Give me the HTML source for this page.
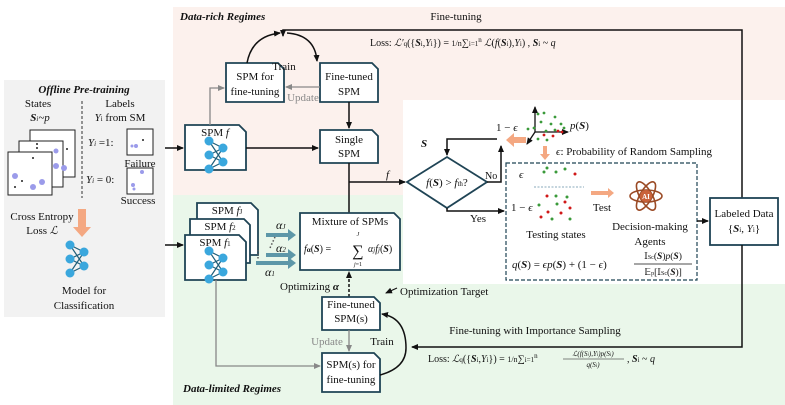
<!DOCTYPE html>
<html><head><meta charset="utf-8"><style>
html,body{margin:0;padding:0;background:#fff}
svg{display:block;font-family:"Liberation Serif",serif}
text{font-size:11px;fill:#111}
.b{font-weight:bold;font-style:italic}
.g{fill:#888}
</style></head><body>
<svg width="785" height="405" viewBox="0 0 785 405">
<defs>
<marker id="ar" markerWidth="8" markerHeight="8" refX="6" refY="3" orient="auto" markerUnits="userSpaceOnUse"><path d="M0,0L7,3L0,6z" fill="#111"/></marker>
<marker id="ag" markerWidth="8" markerHeight="8" refX="6" refY="3" orient="auto" markerUnits="userSpaceOnUse"><path d="M0,0L7,3L0,6z" fill="#888"/></marker>
<g id="nn">
<g stroke="#1f5f7a" stroke-width="1.2"><path d="M0,0L14,7M0,0L14,21M0,14L14,7M0,14L14,21M0,28L14,7M0,28L14,21"/></g>
<g fill="#3aa7dd"><circle cx="0" cy="0" r="4.5"/><circle cx="0" cy="14" r="4.5"/><circle cx="0" cy="28" r="4.5"/><circle cx="14" cy="7" r="4.5"/><circle cx="14" cy="21" r="4.5"/></g>
</g>
</defs>
<rect x="173" y="7" width="612" height="188" fill="#fcf1ed"/>
<rect x="173" y="195" width="612" height="210" fill="#eaf7ea"/>
<rect x="403" y="100" width="382" height="184" fill="#fff"/>
<rect x="4" y="80" width="161" height="237" fill="#f2f2f2"/>

<text x="84" y="93" text-anchor="middle" class="b" style="font-size:11px">Offline Pre-training</text>
<text x="38" y="107" text-anchor="middle">States</text>
<text x="40" y="121" text-anchor="middle" font-style="italic"><tspan font-weight="bold">S</tspan><tspan font-size="7">i</tspan>~p</text>
<line x1="82" y1="101" x2="82" y2="198" stroke="#333" stroke-dasharray="3,2"/>
<text x="120" y="107" text-anchor="middle">Labels</text>
<text x="120" y="121" text-anchor="middle"><tspan font-style="italic">Y</tspan><tspan font-size="7">i</tspan> from SM</text>
<rect x="30" y="130" width="45" height="47" fill="#fff" stroke="#222"/>
<rect x="19" y="141" width="44" height="46" fill="#fff" stroke="#222"/>
<rect x="8" y="152" width="44" height="43" fill="#fff" stroke="#222"/>
<g fill="#9b9bea"><circle cx="15" cy="176" r="3"/><circle cx="33" cy="187" r="3"/><circle cx="42" cy="182" r="3"/><circle cx="56" cy="166" r="3"/><circle cx="64" cy="168" r="3"/><circle cx="56" cy="151" r="2.5"/></g>
<g fill="#222"><circle cx="33" cy="158" r="1"/><circle cx="22" cy="181" r="1"/><circle cx="15" cy="187" r="1"/><circle cx="67" cy="149" r="1"/><circle cx="37" cy="144" r="1"/><circle cx="37" cy="148" r="1"/></g>
<text x="88" y="146" font-style="italic">Y<tspan font-size="7">i</tspan><tspan font-style="normal"> =1:</tspan></text>
<rect x="127" y="129" width="26" height="26" fill="#fff" stroke="#222"/>
<circle cx="136" cy="146" r="2" fill="#9b9bea"/><circle cx="132" cy="146" r="1.5" fill="#9b9bea"/><circle cx="143" cy="140" r="1" fill="#222"/>
<text x="140" y="167" text-anchor="middle">Failure</text>
<text x="86" y="183" font-style="italic">Y<tspan font-size="7">i</tspan><tspan font-style="normal"> = 0:</tspan></text>
<rect x="127" y="168" width="26" height="26" fill="#fff" stroke="#222"/>
<circle cx="142" cy="172" r="2" fill="#9b9bea"/><circle cx="133" cy="185" r="2" fill="#9b9bea"/><circle cx="134" cy="189" r="1.5" fill="#9b9bea"/>
<text x="138" y="204" text-anchor="middle">Success</text>
<text x="42" y="220" text-anchor="middle">Cross Entropy</text>
<text x="42" y="234" text-anchor="middle">Loss <tspan font-style="italic">ℒ</tspan></text>
<path d="M78,209h8v18h5l-9,10l-9,-10h5z" fill="#f4a882"/>
<use href="#nn" x="70" y="245"/>
<text x="84" y="294" text-anchor="middle">Model for</text>
<text x="84" y="309" text-anchor="middle">Classification</text>

<line x1="165" y1="148" x2="183" y2="148" stroke="#111" stroke-width="1.5" marker-end="url(#ar)"/>
<line x1="165" y1="245" x2="183" y2="245" stroke="#111" stroke-width="1.5" marker-end="url(#ar)"/>

<text x="180" y="20" class="b">Data-rich Regimes</text>
<path d="M185,125h54l7,7v38h-61z" fill="#fff" stroke="#1f4455" stroke-width="1.8"/>
<text x="215" y="136" text-anchor="middle">SPM <tspan font-style="italic">f</tspan></text>
<use href="#nn" x="209" y="141"/>
<line x1="246" y1="148" x2="318" y2="148" stroke="#111" stroke-width="1.5" marker-end="url(#ar)"/>
<path d="M320,130h52l6,6v27h-58z" fill="#fff" stroke="#1f4455" stroke-width="1.8"/>
<text x="349" y="143" text-anchor="middle">Single</text>
<text x="349" y="157" text-anchor="middle">SPM</text>
<path d="M226,63h52l6,6v33h-58z" fill="#fff" stroke="#1f4455" stroke-width="1.8"/>
<text x="255" y="80" text-anchor="middle">SPM for</text>
<text x="255" y="95" text-anchor="middle">fine-tuning</text>
<path d="M320,63h52l6,6v33h-58z" fill="#fff" stroke="#1f4455" stroke-width="1.8"/>
<text x="349" y="80" text-anchor="middle">Fine-tuned</text>
<text x="349" y="95" text-anchor="middle">SPM</text>
<line x1="320" y1="87" x2="286" y2="87" stroke="#888" stroke-width="1.3" marker-end="url(#ag)"/>
<text x="303" y="101" text-anchor="middle" class="g">Update</text>
<polyline points="210,125 210,88 224,88" fill="none" stroke="#888" stroke-width="1.3" marker-end="url(#ag)"/>
<path d="M247,63 Q252,36 280,33" fill="none" stroke="#111" stroke-width="1.5" marker-end="url(#ar)"/>
<path d="M287,33 Q315,35 317,61" fill="none" stroke="#111" stroke-width="1.5" marker-end="url(#ar)"/>
<text x="284" y="70" text-anchor="middle">Train</text>
<line x1="349" y1="102" x2="349" y2="128" stroke="#111" stroke-width="1.5" marker-end="url(#ar)"/>
<text x="456" y="20" text-anchor="middle">Fine-tuning</text>
<polyline points="742,198 742,30 283,30 283,36" fill="none" stroke="#111" stroke-width="1.5" marker-end="url(#ar)"/>
<text x="370" y="46" style="font-size:10px">Loss: <tspan font-style="italic">ℒ′</tspan><tspan font-size="7">q</tspan>({<tspan font-weight="bold" font-style="italic">S</tspan><tspan font-size="7">i</tspan>,<tspan font-style="italic">Y</tspan><tspan font-size="7">i</tspan>}) = <tspan font-size="8">1/n</tspan>∑<tspan font-size="7">i=1</tspan><tspan font-size="7" dy="-4">n</tspan><tspan dy="4" font-style="italic"> ℒ</tspan>(<tspan font-style="italic">f</tspan>(<tspan font-weight="bold" font-style="italic">S</tspan><tspan font-size="7">i</tspan>),<tspan font-style="italic">Y</tspan><tspan font-size="7">i</tspan>) , <tspan font-weight="bold" font-style="italic">S</tspan><tspan font-size="7">i</tspan> ~ <tspan font-style="italic">q</tspan></text>

<line x1="349" y1="163" x2="349" y2="213" stroke="#111" stroke-width="1.5"/>
<line x1="349" y1="182" x2="405" y2="182" stroke="#111" stroke-width="1.5" marker-end="url(#ar)"/>
<text x="386" y="178" font-style="italic">f</text>

<path d="M407,182L447,157L487,182L447,208z" fill="#fff" stroke="#1f4455" stroke-width="1.8"/>
<text x="447" y="186" text-anchor="middle"><tspan font-style="italic">f</tspan>(<tspan font-weight="bold" font-style="italic">S</tspan>) &gt; <tspan font-style="italic">f</tspan><tspan font-size="7">th</tspan>?</text>
<text x="421" y="147" font-weight="bold" font-style="italic">S</text>
<polyline points="497,139 447,139 447,155" fill="none" stroke="#111" stroke-width="1.5" marker-end="url(#ar)"/>
<polyline points="487,182 501,182 501,146" fill="none" stroke="#111" stroke-width="1.5" marker-end="url(#ar)"/>
<text x="485" y="179" style="font-size:10px">No</text>
<text x="496" y="131">1 − <tspan font-style="italic">ϵ</tspan></text>
<path d="M526,137v6h-12v4l-8,-7l8,-7v4z" fill="#f4a882"/>
<polyline points="447,208 447,211 504,211" fill="none" stroke="#111" stroke-width="1.5" marker-end="url(#ar)"/>
<text x="470" y="222">Yes</text>
<g stroke="#111" stroke-width="1.3" fill="none"><line x1="535" y1="132" x2="535" y2="107" marker-end="url(#ar)"/><line x1="535" y1="132" x2="568" y2="132" marker-end="url(#ar)"/><line x1="535" y1="132" x2="527" y2="144" marker-end="url(#ar)"/></g>
<g fill="#3a9a3a"><circle cx="538" cy="114" r="1.4"/><circle cx="544" cy="113" r="1.4"/><circle cx="555" cy="117" r="1.4"/><circle cx="541" cy="122" r="1.4"/><circle cx="551" cy="124" r="1.4"/><circle cx="561" cy="124" r="1.4"/><circle cx="534" cy="128" r="1.4"/><circle cx="546" cy="131" r="1.4"/><circle cx="555" cy="130" r="1.4"/><circle cx="547" cy="140" r="1.4"/><circle cx="538" cy="139" r="1.4"/><circle cx="564" cy="128" r="1.4"/><circle cx="528" cy="129" r="1.4"/></g>
<g fill="#d01818"><circle cx="544" cy="135" r="1.4"/><circle cx="553" cy="136" r="1.4"/><circle cx="558" cy="131" r="1.4"/><circle cx="562" cy="132" r="1.4"/></g>
<text x="570" y="129"><tspan font-style="italic">p</tspan>(<tspan font-weight="bold" font-style="italic">S</tspan>)</text>
<path d="M543,146h4v8h3l-5,6l-5,-6h3z" fill="#f4a882"/>
<text x="556" y="155"><tspan font-style="italic">ϵ</tspan>: Probability of Random Sampling</text>

<rect x="506" y="163" width="191" height="117" fill="#fff" stroke="#1f4455" stroke-dasharray="4,2" stroke-width="1.2"/>
<text x="519" y="178" font-style="italic">ϵ</text>
<g fill="#3a9a3a"><circle cx="544" cy="172" r="1.5"/><circle cx="547" cy="168" r="1.5"/><circle cx="556" cy="172" r="1.5"/><circle cx="565" cy="169" r="1.5"/></g><circle cx="575" cy="174" r="1.5" fill="#d01818"/>
<line x1="534" y1="187" x2="584" y2="187" stroke="#8ab" stroke-dasharray="2,1.5"/>
<text x="511" y="211">1 − <tspan font-style="italic">ϵ</tspan></text>
<g fill="#d01818"><circle cx="547" cy="196" r="1.5"/><circle cx="565" cy="202" r="1.5"/><circle cx="548" cy="212" r="1.5"/><circle cx="561" cy="213" r="1.5"/><circle cx="541" cy="217" r="1.5"/><circle cx="570" cy="208" r="1.5"/></g>
<g fill="#3a9a3a"><circle cx="556" cy="196" r="1.5"/><circle cx="539" cy="205" r="1.5"/><circle cx="557" cy="204" r="1.5"/><circle cx="552" cy="219" r="1.5"/><circle cx="570" cy="219" r="1.5"/><circle cx="567" cy="197" r="1.5"/></g>
<text x="556" y="238" text-anchor="middle">Testing states</text>
<path d="M591,191h17v-3l6,5l-6,5v-3h-17z" fill="#f4a882"/>
<text x="602" y="211" text-anchor="middle">Test</text>
<g fill="none" stroke="#9a4a25" stroke-width="1.6"><ellipse cx="646" cy="196" rx="16" ry="6"/><ellipse cx="646" cy="196" rx="16" ry="6" transform="rotate(60 646 196)"/><ellipse cx="646" cy="196" rx="16" ry="6" transform="rotate(-60 646 196)"/></g>
<circle cx="646" cy="196" r="6" fill="#c9623a"/>
<text x="646" y="199" text-anchor="middle" style="font-size:7px;fill:#fff;font-weight:bold">AI</text>
<text x="650" y="230" text-anchor="middle">Decision-making</text>
<text x="650" y="245" text-anchor="middle">Agents</text>
<text x="512" y="268"><tspan font-style="italic">q</tspan>(<tspan font-weight="bold" font-style="italic">S</tspan>) = <tspan font-style="italic">ϵp</tspan>(<tspan font-weight="bold" font-style="italic">S</tspan>) + (1 − <tspan font-style="italic">ϵ</tspan>)</text>
<line x1="634" y1="264" x2="692" y2="264" stroke="#111" stroke-width="0.8"/>
<text x="663" y="259" text-anchor="middle" style="font-size:9.5px">𝕀<tspan font-size="6">Sc</tspan>(<tspan font-weight="bold" font-style="italic">S</tspan>)<tspan font-style="italic">p</tspan>(<tspan font-weight="bold" font-style="italic">S</tspan>)</text>
<text x="663" y="275" text-anchor="middle" style="font-size:9.5px">𝔼<tspan font-size="6">p</tspan>[𝕀<tspan font-size="6">Sc</tspan>(<tspan font-weight="bold" font-style="italic">S</tspan>)]</text>
<line x1="697" y1="221" x2="708" y2="221" stroke="#111" stroke-width="1.5" marker-end="url(#ar)"/>
<rect x="710" y="198" width="68" height="47" fill="#fff" stroke="#1f4455" stroke-width="1.8"/>
<text x="744" y="217" text-anchor="middle">Labeled Data</text>
<text x="744" y="232" text-anchor="middle">{<tspan font-weight="bold" font-style="italic">S</tspan><tspan font-size="7">i</tspan>, <tspan font-style="italic">Y</tspan><tspan font-size="7">i</tspan>}</text>

<text x="183" y="392" class="b">Data-limited Regimes</text>
<path d="M197,203h54l7,7v45h-61z" fill="#fff" stroke="#1f4455" stroke-width="1.8"/>
<path d="M190,219h54l6,6v38h-60z" fill="#fff" stroke="#1f4455" stroke-width="1.8"/>
<path d="M185,235h54l7,7v38h-61z" fill="#fff" stroke="#1f4455" stroke-width="1.8"/>
<text x="227" y="214" text-anchor="middle">SPM <tspan font-style="italic">f</tspan><tspan font-size="7">J</tspan></text>
<text x="220" y="230" text-anchor="middle">SPM <tspan font-style="italic">f</tspan><tspan font-size="7">2</tspan></text>
<text x="215" y="246" text-anchor="middle">SPM <tspan font-style="italic">f</tspan><tspan font-size="7">1</tspan></text>
<use href="#nn" x="209" y="251"/>
<g fill="#5d97a8"><path d="M266,233h22v-4l8,6l-8,6v-4h-22z"/><path d="M266,253h22v-4l8,6l-8,6v-4h-22z"/><path d="M256,261h32v-4l8,6l-8,6v-4h-32z"/></g>
<text x="276" y="229" font-style="italic" style="font-size:12px">α<tspan font-size="7">J</tspan></text>
<text x="276" y="252" font-style="italic" style="font-size:12px">α<tspan font-size="7">2</tspan></text>
<text x="265" y="276" font-style="italic" style="font-size:12px">α<tspan font-size="7">1</tspan></text>
<line x1="275" y1="237" x2="270" y2="248" stroke="#555" stroke-width="1.5" stroke-dasharray="1.5,2"/>
<line x1="258" y1="250" x2="258" y2="259" stroke="#555" stroke-width="1.5" stroke-dasharray="1.5,2"/>
<path d="M300,213h94l6,6v51h-100z" fill="#fff" stroke="#1f4455" stroke-width="1.8"/>
<text x="350" y="225" text-anchor="middle">Mixture of SPMs</text>
<text x="304" y="252" style="font-size:10px"><tspan font-style="italic">f</tspan><tspan font-size="7" font-weight="bold">α</tspan>(<tspan font-weight="bold" font-style="italic">S</tspan>) = </text>
<text x="358" y="256" text-anchor="middle" style="font-size:16px">∑</text>
<text x="358" y="236" text-anchor="middle" style="font-size:6px" font-style="italic">J</text>
<text x="358" y="266" text-anchor="middle" style="font-size:6px"><tspan font-style="italic">j</tspan>=1</text>
<text x="368" y="252" style="font-size:10px" font-style="italic">α<tspan font-size="7">j</tspan>f<tspan font-size="7">j</tspan><tspan font-style="normal">(</tspan><tspan font-weight="bold">S</tspan><tspan font-style="normal">)</tspan></text>
<line x1="349" y1="297" x2="349" y2="272" stroke="#111" stroke-width="1.5" stroke-dasharray="3,2" marker-end="url(#ar)"/>
<text x="280" y="290">Optimizing <tspan font-weight="bold" font-style="italic">α</tspan></text>
<line x1="397" y1="288" x2="386" y2="293" stroke="#111" stroke-width="1.2" marker-end="url(#ar)"/>
<text x="400" y="295">Optimization Target</text>
<path d="M322,297h52l6,6v27h-58z" fill="#fff" stroke="#1f4455" stroke-width="1.8"/>
<text x="351" y="308" text-anchor="middle">Fine-tuned</text>
<text x="351" y="322" text-anchor="middle">SPM(s)</text>
<line x1="349" y1="330" x2="349" y2="351" stroke="#888" stroke-width="1.3" marker-end="url(#ag)"/>
<text x="327" y="345" text-anchor="middle" class="g">Update</text>
<path d="M322,353h52l6,6v33h-58z" fill="#fff" stroke="#1f4455" stroke-width="1.8"/>
<text x="351" y="368" text-anchor="middle">SPM(s) for</text>
<text x="351" y="383" text-anchor="middle">fine-tuning</text>
<polyline points="216,280 216,366 320,366" fill="none" stroke="#888" stroke-width="1.3" marker-end="url(#ag)"/>
<path d="M380,375 Q406,368 406,348 Q406,318 382,314" fill="none" stroke="#111" stroke-width="1.5" marker-end="url(#ar)"/>
<text x="382" y="345" text-anchor="middle" style="fill:#111">Train</text>
<text x="535" y="334" text-anchor="middle">Fine-tuning with Importance Sampling</text>
<polyline points="742,245 742,347 412,347" fill="none" stroke="#111" stroke-width="1.5" marker-end="url(#ar)"/>
<text x="428" y="362" style="font-size:10px">Loss: <tspan font-style="italic">ℒ</tspan><tspan font-size="7">q</tspan>({<tspan font-weight="bold" font-style="italic">S</tspan><tspan font-size="7">i</tspan>,<tspan font-style="italic">Y</tspan><tspan font-size="7">i</tspan>}) = <tspan font-size="8">1/n</tspan>∑<tspan font-size="7">i=1</tspan><tspan font-size="7" dy="-4">n</tspan></text>
<line x1="563" y1="359" x2="624" y2="359" stroke="#111" stroke-width="0.6"/>
<text x="593" y="356" text-anchor="middle" style="font-size:7px" font-style="italic">ℒ(f(S<tspan font-size="5">i</tspan>),Y<tspan font-size="5">i</tspan>)p(S<tspan font-size="5">i</tspan>)</text>
<text x="593" y="367" text-anchor="middle" style="font-size:7px" font-style="italic">q(S<tspan font-size="5">i</tspan>)</text>
<text x="627" y="362" style="font-size:10px">, <tspan font-weight="bold" font-style="italic">S</tspan><tspan font-size="7">i</tspan> ~ <tspan font-style="italic">q</tspan></text>
</svg>
</body></html>
